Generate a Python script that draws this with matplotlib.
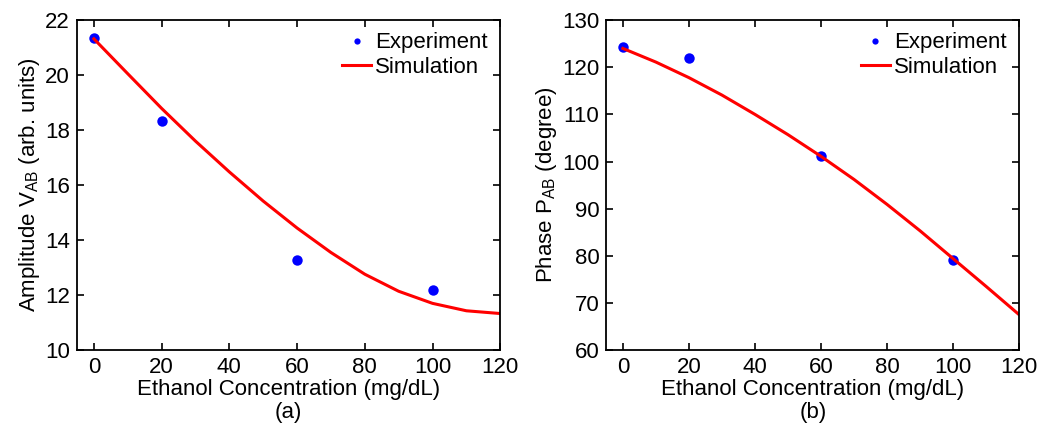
import matplotlib.pyplot as plt
from matplotlib.ticker import MultipleLocator

plt.rcParams['font.family'] = ['Liberation Sans', 'DejaVu Sans']
plt.rcParams['mathtext.fontset'] = 'custom'
plt.rcParams['mathtext.rm'] = 'Liberation Sans'

# measured points
conc_exp = [0, 20, 60, 100]
amp_exp = [21.36, 18.33, 13.27, 12.17]
phase_exp = [124.2, 121.9, 101.15, 79.2]

# simulation curves, read every 10 mg/dL
conc_sim = [0, 10, 20, 30, 40, 50, 60, 70, 80, 90, 100, 110, 120]
amp_sim = [21.32, 20.05, 18.79, 17.60, 16.48, 15.42, 14.44, 13.55, 12.76, 12.14, 11.70, 11.43, 11.33]
phase_sim = [124.0, 121.1, 117.8, 114.1, 110.0, 105.7, 101.1, 96.2, 90.9, 85.3, 79.4, 73.5, 67.5]

fig = plt.figure(figsize=(10.4, 4.28), dpi=100)
ax1 = fig.add_axes([0.074, 0.182, 0.407, 0.771])
ax2 = fig.add_axes([0.583, 0.182, 0.397, 0.771])

fs = 16
panels = [
    (ax1, amp_exp, amp_sim, r'Amplitude V$_\mathregular{AB}$ (arb. units)', (10, 22), 2, '(a)'),
    (ax2, phase_exp, phase_sim, r'Phase P$_\mathregular{AB}$ (degree)', (60, 130), 10, '(b)'),
]

for ax, yexp, ysim, ylab, ylim, ystep, tag in panels:
    ax.plot(conc_exp, yexp, 'o', color='#0000ff', ms=7.5, mec='none', label='Experiment')
    ax.plot(conc_sim, ysim, '-', color='#ff0000', lw=2.2, label='Simulation')
    ax.set_xlim(-5, 120)
    ax.set_ylim(*ylim)
    ax.xaxis.set_major_locator(MultipleLocator(20))
    ax.yaxis.set_major_locator(MultipleLocator(ystep))
    ax.tick_params(direction='in', top=True, right=True, labelsize=fs,
                   length=5, width=1.2, pad=5)
    for s in ax.spines.values():
        s.set_linewidth(1.3)
    ax.set_xlabel('Ethanol Concentration (mg/dL)\n' + tag, fontsize=fs, labelpad=1,
                  linespacing=1.1)
    ax.set_ylabel(ylab, fontsize=fs, labelpad=2)
    ax.legend(loc='upper right', frameon=False, fontsize=fs, handlelength=1.3,
              handletextpad=0.2, borderaxespad=0.15, labelspacing=0.15,
              markerscale=0.6)

fig.savefig('out.png', dpi=100)
